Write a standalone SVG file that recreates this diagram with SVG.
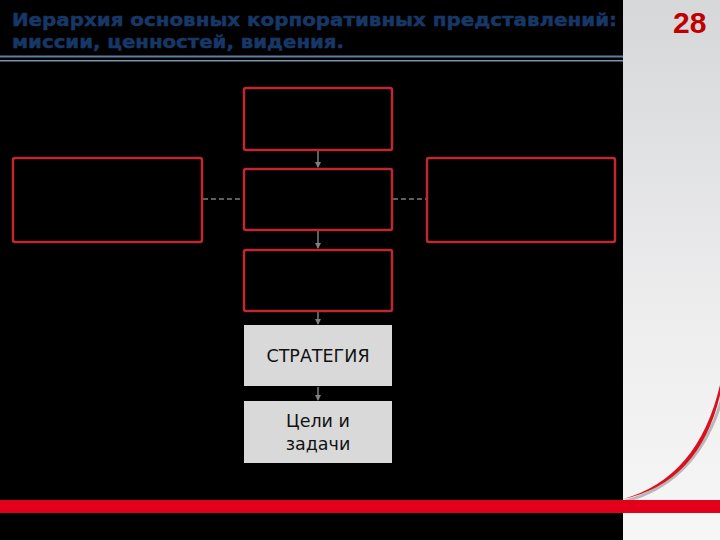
<svg xmlns="http://www.w3.org/2000/svg" width="720" height="540" viewBox="0 0 720 540">
<defs>
<linearGradient id="panel" x1="0" y1="0" x2="0" y2="1">
<stop offset="0" stop-color="#d6d7d9"/>
<stop offset="0.6" stop-color="#eeeeef"/>
<stop offset="1" stop-color="#f6f6f6"/>
</linearGradient>
<marker id="arr" viewBox="0 0 6 6" refX="5" refY="3" markerWidth="4" markerHeight="4" orient="auto">
<path d="M0,0 L6,3 L0,6 z" fill="#7f7f7f"/>
</marker>
<style>
.title{font-family:"DejaVu Sans",Verdana,sans-serif;font-weight:bold;font-size:18.5px;fill:#173867;stroke:#173867;stroke-width:0.5}
.red{fill:none;stroke:#c0272f;stroke-width:2.5}
.grey{fill:#d9d9d9}
.lbl{font-family:"DejaVu Sans",sans-serif;font-size:17.5px;fill:#111;text-anchor:middle}
.arrow{stroke:#7f7f7f;stroke-width:1.5;fill:none;marker-end:url(#arr)}
.dash{stroke:#7f7f7f;stroke-width:1.5;stroke-dasharray:5 3;fill:none}
</style>
</defs>
<rect width="720" height="540" fill="#000"/>
<rect x="623" y="0" width="97" height="540" fill="url(#panel)"/>
<path d="M623,499 Q700,478 722,385" fill="none" stroke="#b8b8b8" stroke-width="3" transform="translate(3,2)"/>
<path d="M623,499 Q698,478 720,385 L722,386 Q703,482 623,499 z" fill="#d8101f"/>
<rect x="0" y="500" width="720" height="13" fill="#e2001a"/>
<text class="title" x="12" y="26" textLength="605" lengthAdjust="spacingAndGlyphs">Иерархия основных корпоративных представлений:</text>
<text class="title" x="12" y="48" textLength="332" lengthAdjust="spacingAndGlyphs">миссии, ценностей, видения.</text>
<rect x="0" y="55.5" width="623" height="2" fill="#5d7ea3"/>
<rect x="0" y="60" width="623" height="1.5" fill="#7d93ad"/>
<text x="673" y="33" font-family="Liberation Sans, Arial, sans-serif" font-weight="bold" font-size="30" fill="#c00000">28</text>
<g id="connectors">
<line class="arrow" x1="318" y1="151" x2="318" y2="167"/>
<line class="arrow" x1="318" y1="231" x2="318" y2="248"/>
<line class="arrow" x1="318" y1="312" x2="318" y2="324"/>
<line class="arrow" x1="318" y1="387" x2="318" y2="400"/>
<line class="dash" x1="203" y1="199" x2="243" y2="199"/>
<line class="dash" x1="393" y1="199" x2="426" y2="199"/>
</g>
<g id="top"><rect class="red" x="244" y="88" width="148" height="62" rx="2"/></g>
<g id="middle"><rect class="red" x="244" y="169" width="148" height="61" rx="2"/></g>
<g id="bottom"><rect class="red" x="244" y="250" width="148" height="61" rx="2"/></g>
<g id="left"><rect class="red" x="13" y="158" width="189" height="84" rx="2"/></g>
<g id="right"><rect class="red" x="427" y="158" width="188" height="84" rx="2"/></g>
<g id="strategy">
<rect class="grey" x="244" y="325" width="148" height="61"/>
<text class="lbl" x="318" y="362">СТРАТЕГИЯ</text>
</g>
<g id="goals">
<rect class="grey" x="244" y="401" width="148" height="62"/>
<text class="lbl" x="318" y="427">Цели и</text>
<text class="lbl" x="318" y="450">задачи</text>
</g>
</svg>
